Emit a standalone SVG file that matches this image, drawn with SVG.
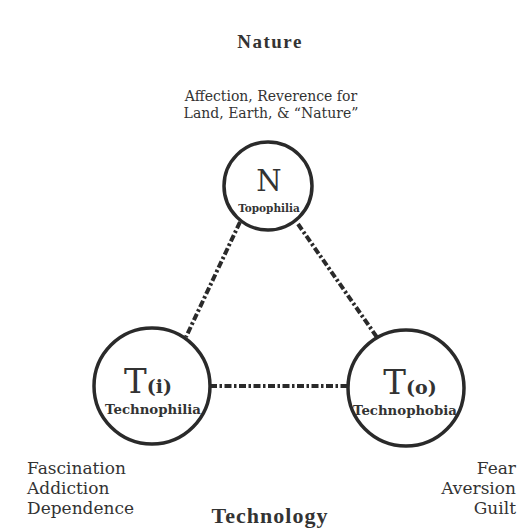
<svg xmlns="http://www.w3.org/2000/svg" width="523" height="528" viewBox="0 0 523 528">
  <style>
    text { font-family: "DejaVu Serif", "Liberation Serif", serif; fill: #333; }
    .title { font-family: "Liberation Serif", "DejaVu Serif", serif; font-weight: bold; letter-spacing: 1.5px; text-anchor: middle; }
    .note { font-size: 14px; text-anchor: middle; }
    .side { font-size: 17px; }
    .end { text-anchor: end; }
    .mid { text-anchor: middle; }
    .big { font-size: 34px; }
    .sub { font-size: 19px; font-weight: bold; }
    .name { font-size: 13.3px; font-weight: bold; text-anchor: middle; }
    .ring { fill: #fff; stroke: #2a2a2a; stroke-width: 3.5; }
    .link { stroke: #2a2a2a; stroke-width: 4; stroke-dasharray: 7 2.5 2.5 2.5; fill: none; }
  </style>
  <rect width="523" height="528" fill="#fff"/>

  <text class="title" x="270" y="48" style="font-size:19px">Nature</text>
  <text class="note" x="271" y="101">Affection, Reverence for</text>
  <text class="note" x="271" y="118">Land, Earth, &amp; “Nature”</text>

  <g id="connectors">
    <line class="link" x1="240" y1="222" x2="186" y2="337"/>
    <line class="link" x1="298" y1="224" x2="381" y2="343"/>
    <line class="link" x1="210" y1="386" x2="348" y2="386"/>
  </g>

  <g id="node-n">
    <circle class="ring" cx="268" cy="186" r="44"/>
    <text class="mid" x="269" y="191" style="font-size:29px">N</text>
    <text class="name" x="269" y="212" style="font-size:10.5px">Topophilia</text>
  </g>

  <g id="node-ti">
    <circle class="ring" cx="152" cy="386" r="58"/>
    <text x="148" y="393" class="mid"><tspan class="big">T</tspan><tspan class="sub">(i)</tspan></text>
    <text class="name" x="153" y="414">Technophilia</text>
  </g>

  <g id="node-to">
    <circle class="ring" cx="406" cy="388" r="58"/>
    <text x="410" y="394" class="mid"><tspan class="big">T</tspan><tspan class="sub">(o)</tspan></text>
    <text class="name" x="405" y="415">Technophobia</text>
  </g>

  <g id="labels-left">
    <text class="side" x="27" y="474">Fascination</text>
    <text class="side" x="27" y="494">Addiction</text>
    <text class="side" x="27" y="514">Dependence</text>
  </g>
  <g id="labels-right">
    <text class="side end" x="516" y="474">Fear</text>
    <text class="side end" x="516" y="494">Aversion</text>
    <text class="side end" x="516" y="514">Guilt</text>
  </g>
  <text class="title" x="270" y="523" style="font-size:22px;letter-spacing:1px">Technology</text>
</svg>
